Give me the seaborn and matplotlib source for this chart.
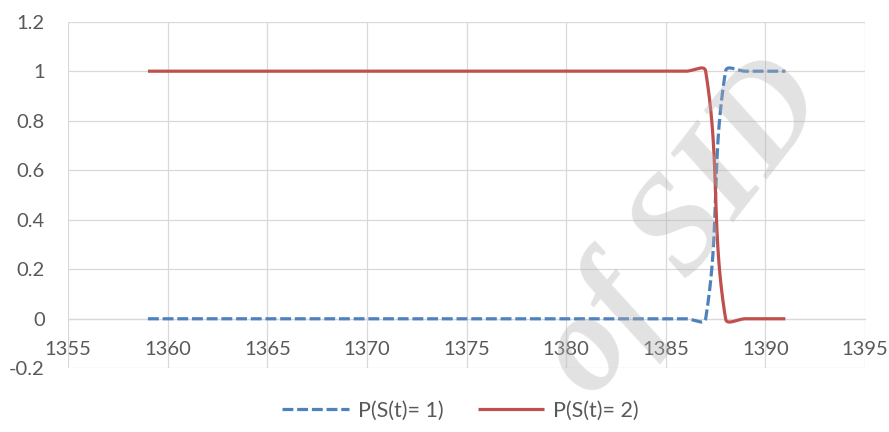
import numpy as np
import pandas as pd
import matplotlib
matplotlib.use("Agg")
import matplotlib.pyplot as plt
import seaborn as sns

# ---- data ----
years = [1359, 1360, 1361, 1362, 1363, 1364, 1365, 1366, 1367, 1368, 1369,
         1370, 1371, 1372, 1373, 1374, 1375, 1376, 1377, 1378, 1379, 1380,
         1381, 1382, 1383, 1384, 1385, 1386, 1387, 1388, 1389, 1390, 1391]
p_state1 = [0, 0, 0, 0, 0, 0, 0, 0, 0, 0, 0,
            0, 0, 0, 0, 0, 0, 0, 0, 0, 0, 0,
            0, 0, 0, 0, 0, 0, 0, 1, 1, 1, 1]
p_state2 = [1, 1, 1, 1, 1, 1, 1, 1, 1, 1, 1,
            1, 1, 1, 1, 1, 1, 1, 1, 1, 1, 1,
            1, 1, 1, 1, 1, 1, 1, 0, 0, 0, 0]
series_labels = ["P(S(t)= 1)", "P(S(t)= 2)"]
x_ticks = [1355, 1360, 1365, 1370, 1375, 1380, 1385, 1390, 1395]
y_ticks = [-0.2, 0, 0.2, 0.4, 0.6, 0.8, 1, 1.2]
y_tick_labels = ["-0.2", "0", "0.2", "0.4", "0.6", "0.8", "1", "1.2"]
watermark = "of SID"

# ---- Excel-like smoothed line (Bezier through points, screen-space weighted) ----
def smooth(xs, ys, sx=19.92, sy=248.0, f=0.4, n=40):
    P = np.column_stack([np.asarray(xs, float) * sx, np.asarray(ys, float) * sy])
    m = len(P)
    out = []
    for i in range(m - 1):
        p0, p3 = P[i], P[i + 1]
        if i == 0:
            c1 = p0
        else:
            T = P[i + 1] - P[i - 1]
            dp = np.linalg.norm(P[i] - P[i - 1]); dn = np.linalg.norm(P[i + 1] - P[i])
            c1 = p0 + T * dn / (dp + dn) * f
        if i + 1 == m - 1:
            c2 = p3
        else:
            T = P[i + 2] - P[i]
            dp = np.linalg.norm(P[i + 1] - P[i]); dn = np.linalg.norm(P[i + 2] - P[i + 1])
            c2 = p3 - T * dp / (dp + dn) * f
        t = np.linspace(0, 1, n, endpoint=(i == m - 2))[:, None]
        B = ((1 - t) ** 3) * p0 + 3 * ((1 - t) ** 2) * t * c1 + 3 * (1 - t) * t ** 2 * c2 + t ** 3 * p3
        out.append(B)
    B = np.vstack(out)
    return B[:, 0] / sx, B[:, 1] / sy

plt.rcParams['font.family'] = ['Lato', 'DejaVu Sans']

fig = plt.figure(figsize=(8.89, 4.32), dpi=100)
ax = fig.add_axes([0.0768, 0.1475, 0.973 - 0.0768, 0.9498 - 0.1475])

blue = "#4F81BD"
red = "#C0504D"

x1, y1 = smooth(years, p_state1)
x2, y2 = smooth(years, p_state2)
df1 = pd.DataFrame({"x": x1, "y": y1})
df2 = pd.DataFrame({"x": x2, "y": y2})

sns.lineplot(data=df1, x="x", y="y", ax=ax, sort=False, estimator=None,
             color=blue, linewidth=2.3, label=series_labels[0], zorder=3)
sns.lineplot(data=df2, x="x", y="y", ax=ax, sort=False, estimator=None,
             color=red, linewidth=2.3, label=series_labels[1], zorder=3)
l1 = ax.lines[0]
l1.set_dashes((3.4, 1.2))
l1.set_dash_capstyle('butt')
for ln in ax.lines:
    ln.set_solid_capstyle('butt')

ax.set_xlim(1355, 1395)
ax.set_ylim(-0.2, 1.2)
ax.set_xticks(x_ticks)
ax.set_yticks(y_ticks)
ax.set_yticklabels(y_tick_labels)
ax.set_xticklabels([str(v) for v in x_ticks])
ax.grid(True, color="#d9d9d9", linewidth=0.9, zorder=0)
ax.set_axisbelow(True)
ax.set_xlabel("")
ax.set_ylabel("")

for s in ["top", "right", "left"]:
    ax.spines[s].set_visible(False)
ax.spines["bottom"].set_position(("data", 0))
ax.spines["bottom"].set_color("#d9d9d9")
ax.spines["bottom"].set_linewidth(0.9)

ax.tick_params(axis="both", length=0, labelsize=14.5, labelcolor="#595959")
ax.tick_params(axis="y", pad=17)
ax.tick_params(axis="x", pad=16)

ax.get_legend().remove()
handles, labels = ax.get_legend_handles_labels()
leg = fig.legend(handles, labels, loc="center", bbox_to_anchor=(0.518, 0.049),
                 ncol=2, frameon=False, fontsize=15.5, handlelength=3.1,
                 handletextpad=0.4, columnspacing=1.6)
for t in leg.get_texts():
    t.set_color("#595959")

fig.text(0.77, 0.47, watermark, rotation=52, fontsize=100, family="Liberation Serif",
         style="italic", weight="bold", color="#b0b0b0", alpha=0.36,
         ha="center", va="center", zorder=10)

fig.savefig("out.png", dpi=100)
